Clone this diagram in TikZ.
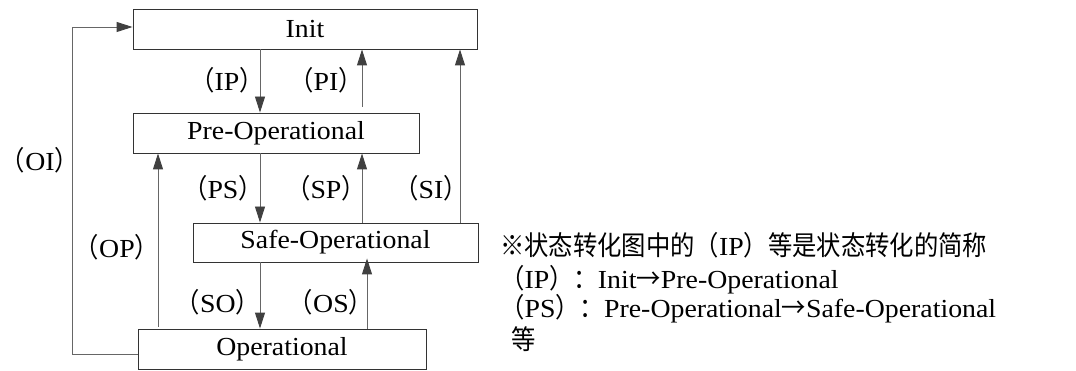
\documentclass[tikz,border=0pt]{standalone}
\usepackage{fontspec}
\setmainfont{Liberation Serif}[FakeStretch=1.07]
\newfontfamily\cjk{Noto Sans CJK SC}[Scale=1.04,FakeStretch=0.9]
\usetikzlibrary{arrows.meta}
\newcommand\plabel[1]{{\cjk（}#1{\cjk）}}
\tikzset{
  state/.style={draw=black!80, line width=0.9pt, inner sep=0pt, minimum height=40pt, font=\fontsize{26}{30}\selectfont},
  arr/.style={draw=black!60, line width=0.9pt, -{Triangle[length=16pt,width=10pt,color=black!75]}},
  lbl/.style={inner sep=0pt, font=\fontsize{26}{30}\selectfont},
  note/.style={inner sep=0pt, anchor=west, font=\fontsize{26}{30}\selectfont}
}
\begin{document}
\begin{tikzpicture}[x=1pt,y=-1pt]
\useasboundingbox (0,0) rectangle (1076,371);
\node[state, minimum width=344pt] (init) at (305,29) {Init};
\node[state, minimum width=286pt] (pre) at (276,133) {Pre-Operational};
\node[state, minimum width=285pt, minimum height=39pt] (safe) at (335.5,242.5) {Safe-Operational};
\node[state, minimum width=288pt] (op) at (282,349) {Operational};
\coordinate (cA) at (260,0);
\coordinate (cB) at (362,0);
\coordinate (cC) at (460,0);
\coordinate (cD) at (158,0);
\coordinate (cE) at (367,0);
\coordinate (cF) at (72,0);
\draw[arr] (init.south -| cA) -- (pre.north -| cA);
\draw[arr, shorten <=6pt] (pre.north -| cB) -- (init.south -| cB);
\draw[arr] (safe.north -| cC) -- (init.south -| cC);
\draw[arr] (pre.south -| cA) -- (safe.north -| cA);
\draw[arr] (safe.north -| cB) -- (pre.south -| cB);
\draw[arr, shorten <=2pt] (op.north -| cD) -- (pre.south -| cD);
\draw[arr] (safe.south -| cA) -- (op.north -| cA);
\draw[arr, shorten >=-4pt] (op.north -| cE) -- (safe.south -| cE);
\coordinate (oiS) at ([yshift=-5pt]op.west);
\coordinate (oiE) at ([yshift=2pt]init.west);
\draw[arr] (oiS) -- (oiS -| cF) |- (oiE);
\node[lbl] (lIP) at (227,80) {\plabel{IP}};
\node[lbl] (lPI) at (326,80) {\plabel{PI}};
\node[lbl] (lOI) at (40,160) {\plabel{OI}};
\node[lbl] (lPS) at (223,188) {\plabel{PS}};
\node[lbl] (lSP) at (326,188) {\plabel{SP}};
\node[lbl] (lSI) at (431,188) {\plabel{SI}};
\node[lbl] (lOP) at (117,247) {\plabel{OP}};
\node[lbl] (lSO) at (218,302) {\plabel{SO}};
\node[lbl] (lOS) at (331,302) {\plabel{OS}};
\node[note] (n1) at (500,245) {{\cjk ※状态转化图中的（}IP{\cjk ）等是状态转化的简称}};
\node[note] (n2) at (500,280) {\plabel{IP}{\cjk ：}Init{\cjk →}Pre-Operational};
\node[note] (n3) at (500,309) {\plabel{PS}{\cjk ：}Pre-Operational{\cjk →}Safe-Operational};
\node[note] (n4) at (511,339) {{\cjk 等}};
\end{tikzpicture}
\end{document}
